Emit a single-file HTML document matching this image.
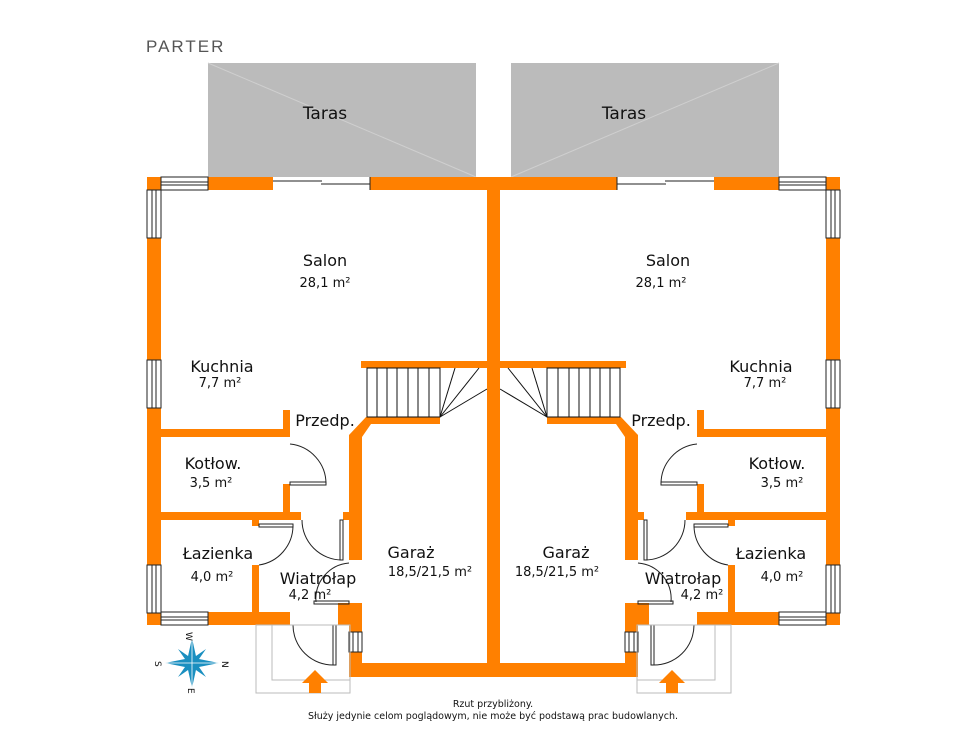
<!DOCTYPE html>
<html><head><meta charset="utf-8"><style>
html,body{margin:0;padding:0;background:#fff}
svg{display:block}
text{font-family:"DejaVu Sans","Liberation Sans",sans-serif;fill:#111}
</style></head><body>
<svg width="977" height="746" viewBox="0 0 977 746" xmlns="http://www.w3.org/2000/svg">
<defs>
<g id="half">
  <rect x="208" y="63" width="268" height="114" fill="#bbbbbb"/>
  <line x1="208" y1="63" x2="476" y2="177" stroke="#cfcfcf" stroke-width="1"/>
  <g fill="#ff8000">
    <rect x="147" y="177" width="340" height="13"/>
    <rect x="147" y="177" width="14" height="448"/>
    <rect x="147" y="612" width="143" height="13"/>
    <rect x="161" y="429" width="129" height="8"/>
    <rect x="283" y="410" width="7" height="27"/>
    <rect x="283" y="484" width="7" height="36"/>
    <rect x="161" y="512" width="140" height="8"/>
    <rect x="252" y="520" width="7" height="6"/>
    <rect x="252" y="565" width="7" height="48"/>
    <rect x="343" y="512" width="19" height="8"/>
    <polygon points="349,435 366,417 440,417 440,424 371,424 362,437 362,560 349,560"/>
    <rect x="361" y="361" width="126" height="7"/>
    <rect x="338" y="603" width="24" height="22"/>
    <rect x="349" y="603" width="13" height="74"/>
    <rect x="349" y="663" width="145" height="14"/>
  </g>
  <g stroke="#111" stroke-width="1" fill="none">
    <rect x="367" y="368" width="73" height="49"/>
    <line x1="377" y1="368" x2="377" y2="417"/><line x1="387" y1="368" x2="387" y2="417"/>
    <line x1="397" y1="368" x2="397" y2="417"/><line x1="408" y1="368" x2="408" y2="417"/>
    <line x1="418" y1="368" x2="418" y2="417"/><line x1="429" y1="368" x2="429" y2="417"/>
    <line x1="440" y1="417" x2="455" y2="368"/><line x1="440" y1="417" x2="479" y2="368"/>
    <line x1="440" y1="417" x2="487" y2="389"/>
  </g>
  <g fill="#fff" stroke="#222" stroke-width="1">
    <rect x="161" y="177" width="47" height="13"/><line x1="161" y1="182" x2="208" y2="182"/><line x1="161" y1="185" x2="208" y2="185"/>
    <rect x="161" y="612" width="47" height="13"/><line x1="161" y1="617" x2="208" y2="617"/><line x1="161" y1="620" x2="208" y2="620"/>
    <rect x="147" y="190" width="14" height="48"/><line x1="152" y1="190" x2="152" y2="238"/><line x1="156" y1="190" x2="156" y2="238"/>
    <rect x="147" y="360" width="14" height="48"/><line x1="152" y1="360" x2="152" y2="408"/><line x1="156" y1="360" x2="156" y2="408"/>
    <rect x="147" y="565" width="14" height="48"/><line x1="152" y1="565" x2="152" y2="613"/><line x1="156" y1="565" x2="156" y2="613"/>
    <rect x="349" y="632" width="13" height="20"/><line x1="353" y1="632" x2="353" y2="652"/><line x1="358" y1="632" x2="358" y2="652"/>
  </g>
  <rect x="273" y="177" width="97" height="13" fill="#fff"/>
  <line x1="273" y1="181" x2="322" y2="181" stroke="#222"/>
  <line x1="321" y1="184" x2="370" y2="184" stroke="#222"/>
  <line x1="370" y1="177" x2="370" y2="190" stroke="#222"/>
  <g fill="none" stroke="#222" stroke-width="1">
    <path d="M290,444 A40,40 0 0 1 326,484"/><rect x="290" y="482" width="36" height="3"/>
    <path d="M302,520 A40,40 0 0 0 342,560"/><rect x="340" y="520" width="3" height="40"/>
    <path d="M293,526 A40,40 0 0 1 259,565"/><rect x="259" y="524" width="34" height="3"/>
    <path d="M349,563 A36,36 0 0 0 316,602"/><rect x="314" y="601" width="35" height="3"/>
    <path d="M293,625 A40,40 0 0 0 334,665"/><rect x="333" y="625" width="3" height="40"/>
  </g>
  <g fill="none" stroke="#bbb" stroke-width="1">
    <rect x="256" y="625" width="94" height="68"/>
    <rect x="272" y="625" width="78" height="55"/>
  </g>
  <polygon points="315,670 328,683 321,683 321,693 309,693 309,683 302,683" fill="#ff8000"/>
</g>
</defs>
<text x="146" y="52" font-size="17" style="font-family:'Liberation Sans',sans-serif;letter-spacing:2px;fill:#555">PARTER</text>
<use href="#half"/>
<use href="#half" transform="translate(987,0) scale(-1,1)"/>
<rect x="487" y="177" width="13" height="500" fill="#ff8000"/>
<g transform="translate(192,663)" fill="#1a8fc0">
  <polygon points="0,-25 4.5,-4.5 27,0 4.5,4.5 0,25 -4.5,4.5 -27,0 -4.5,-4.5"/>
  <polygon points="-14,-14 2.5,-2.5 14,14 -2.5,2.5"/>
  <polygon points="14,-14 2.5,2.5 -14,14 -2.5,-2.5"/>
  <line x1="0" y1="-25" x2="0" y2="25" stroke="#fff" stroke-width="0.8"/>
  <line x1="-27" y1="0" x2="27" y2="0" stroke="#fff" stroke-width="0.8"/>
</g>
<g font-size="9" style="fill:#333">
  <text x="186" y="632" transform="rotate(90 186 632)">W</text>
  <text x="155" y="667" transform="rotate(90 158 664)">S</text>
  <text x="222" y="667" transform="rotate(90 225 664)">N</text>
  <text x="188" y="694" transform="rotate(90 191 691)">E</text>
</g>
<g font-size="17" text-anchor="middle">
  <text x="325" y="119">Taras</text><text x="624" y="119">Taras</text>
</g>
<g font-size="16" text-anchor="middle">
  <text x="325" y="266">Salon</text><text x="668" y="266">Salon</text>
  <text x="222" y="372">Kuchnia</text><text x="761" y="372">Kuchnia</text>
  <text x="325" y="426">Przedp.</text><text x="661" y="426">Przedp.</text>
  <text x="213" y="469">Kotłow.</text><text x="777" y="469">Kotłow.</text>
  <text x="218" y="559">Łazienka</text><text x="771" y="559">Łazienka</text>
  <text x="318" y="584">Wiatrołap</text><text x="683" y="584">Wiatrołap</text>
  <text x="411" y="558">Garaż</text><text x="566" y="558">Garaż</text>
</g>
<g font-size="13" text-anchor="middle">
  <text x="325" y="287">28,1 m²</text><text x="661" y="287">28,1 m²</text>
  <text x="220" y="387">7,7 m²</text><text x="765" y="387">7,7 m²</text>
  <text x="211" y="487">3,5 m²</text><text x="782" y="487">3,5 m²</text>
  <text x="212" y="581">4,0 m²</text><text x="782" y="581">4,0 m²</text>
  <text x="310" y="599">4,2 m²</text><text x="702" y="599">4,2 m²</text>
  <text x="430" y="576">18,5/21,5 m²</text><text x="557" y="576">18,5/21,5 m²</text>
</g>
<g font-size="9.5" text-anchor="middle" style="fill:#222">
  <text x="493" y="707">Rzut przybliżony.</text>
  <text x="493" y="719">Służy jedynie celom poglądowym, nie może być podstawą prac budowlanych.</text>
</g>
</svg>
</body></html>
